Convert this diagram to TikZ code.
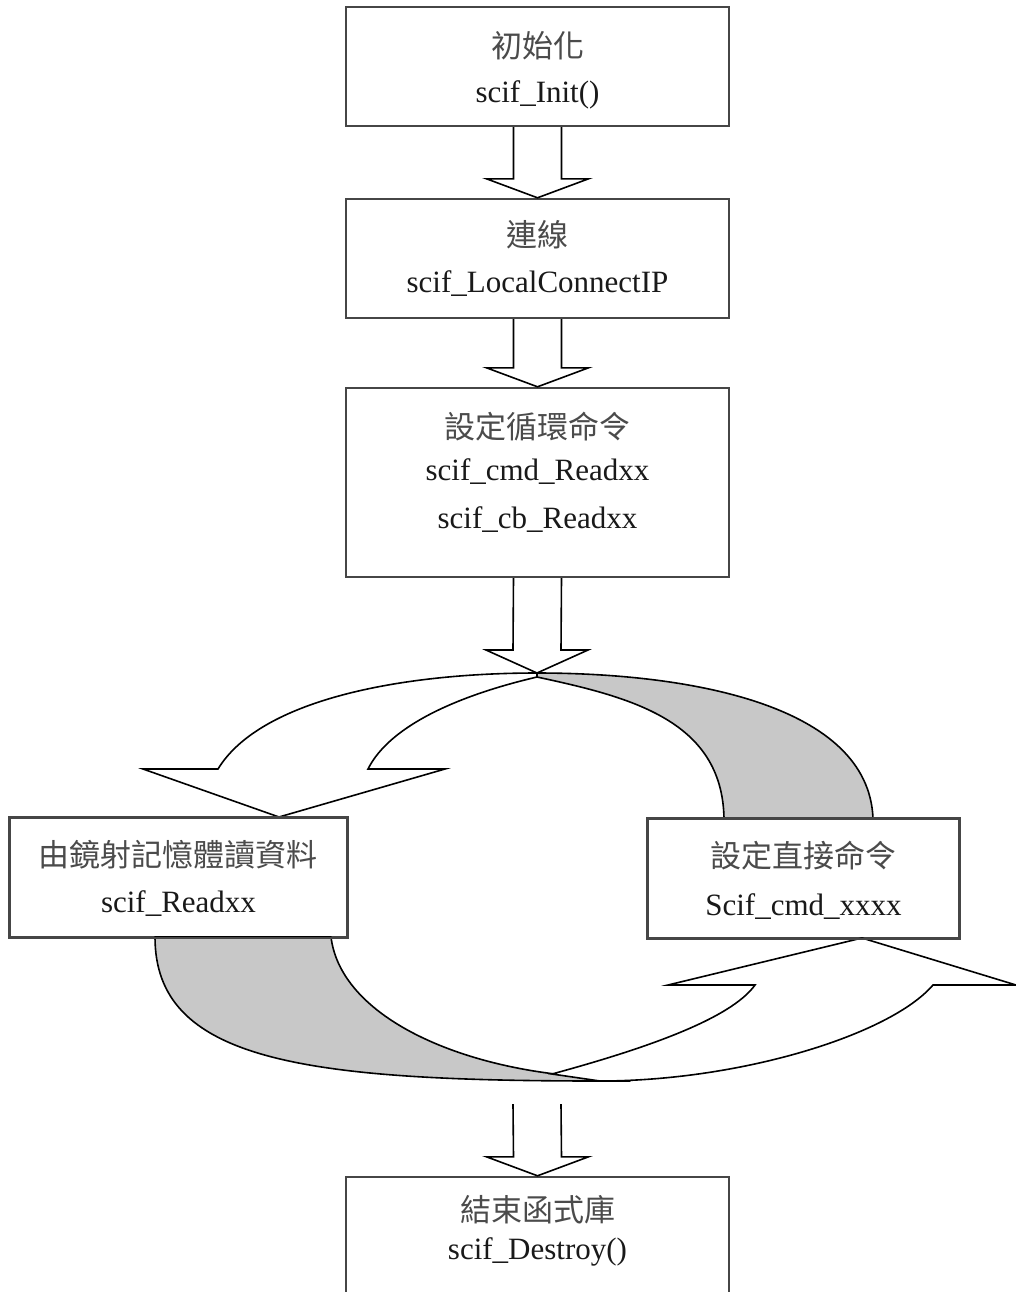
\documentclass[tikz,border=0pt]{standalone}
\usepackage{fontspec}
\setmainfont{Liberation Serif}
\newfontfamily\cjk{Noto Sans CJK TC}
\usetikzlibrary{calc}
\definecolor{boxline}{RGB}{70,70,70}
\definecolor{ribbon}{RGB}{200,200,200}
\definecolor{cjktext}{RGB}{75,75,75}
\definecolor{lattext}{RGB}{25,25,25}
\tikzset{
  box/.style={draw=boxline, line width=1.2pt, fill=white, rectangle, inner sep=0pt},
  blk/.style={draw=black, line width=0.8pt, fill=white, line join=miter},
  ribgray/.style={draw=black, line width=0.8pt, fill=ribbon, line join=round},
  ribwhite/.style={draw=black, line width=0.8pt, fill=white, line join=miter},
  zh/.style={font=\cjk\fontsize{15.5}{18}\selectfont, text=cjktext, anchor=base, inner sep=0pt},
  en/.style={font=\fontsize{15.5}{18}\selectfont, text=lattext, anchor=base, inner sep=0pt},
}
\newcommand{\blockdown}[3]{%
  \draw[blk] ($(#1)+(-24,0)$) -- ($(#2)+(-24,-#3)$) -- ($(#2)+(-51,-#3)$) -- (#2)
    -- ($(#2)+(51,-#3)$) -- ($(#2)+(24,-#3)$) -- ($(#1)+(24,0)$);}
\begin{document}
\begin{tikzpicture}[x=0.5pt,y=-0.5pt]
\useasboundingbox (0,0) rectangle (1016,1292);
\clip (0,0) rectangle (1016,1292);

% boxes
\node[box, minimum width=191.5pt, minimum height=59.5pt] (b1) at (537.5,66.5) {};
\node[box, minimum width=191.5pt, minimum height=59.5pt] (b2) at (537.5,258.5) {};
\node[box, minimum width=191.5pt, minimum height=94.5pt] (b3) at (537.5,482.5) {};
\node[box, minimum width=168.5pt, minimum height=59.5pt] (b4) at (178.5,877.5) {};
\node[box, minimum width=155.5pt, minimum height=59.5pt] (b5) at (803.5,878.5) {};
\node[box, minimum width=191.5pt, minimum height=111.5pt] (b6) at (537.5,1288.5) {};

\coordinate (topjoin) at (537,673);
\coordinate (dtop) at (537,1104);

% straight block arrows
\blockdown{b1.south}{b2.north}{19}
\blockdown{b2.south}{b3.north}{19}
\blockdown{b3.south}{topjoin}{23}
\blockdown{dtop}{b6.north}{19}

% upper curved ribbon arrow
\draw[ribgray] (537,673) .. controls (690,673) and (868,705) .. (873,818)
  -- (724,818) .. controls (722,720) and (630,697) .. (537,677) -- cycle;
\draw[ribwhite] (218,769) .. controls (260,700) and (400,673) .. (537,673)
  -- (537,677) .. controls (460,695) and (390,725) .. (368,769)
  -- (445,769) -- (279,817) -- (143,769) -- cycle;

% lower curved ribbon arrow
\draw[ribgray] (155,937) .. controls (155,1060) and (300,1081) .. (600,1081)
  -- (630,1081) .. controls (600,1079) and (580,1077) .. (555,1074)
  .. controls (440,1060) and (340,1010) .. (331,937) -- cycle;
\draw[ribwhite] (552,1074) .. controls (640,1050) and (730,1020) .. (755,985)
  -- (668,985) -- (862,938) -- (1016,985) -- (933,985)
  .. controls (890,1035) and (740,1081) .. (600,1081) -- cycle;

% redraw box borders on top
\draw[draw=boxline, line width=1.2pt] (b4.south west) rectangle (b4.north east);
\draw[draw=boxline, line width=1.2pt] (b5.south west) rectangle (b5.north east);

% texts
\node[zh] (t1a) at (537.5,57) {初始化};
\node[en] (t1b) at (537.5,102) {scif\_Init()};
\node[zh] (t2a) at (537.5,246) {連線};
\node[en] (t2b) at (537.5,292) {scif\_LocalConnectIP};
\node[zh] (t3a) at (537.5,438) {設定循環命令};
\node[en] (t3b) at (537.5,480) {scif\_cmd\_Readxx};
\node[en] (t3c) at (537.5,528) {scif\_cb\_Readxx};
\node[zh] (t4a) at (178.5,866) {由鏡射記憶體讀資料};
\node[en] (t4b) at (178.5,912) {scif\_Readxx};
\node[zh] (t5a) at (803.5,867) {設定直接命令};
\node[en] (t5b) at (803.5,915) {Scif\_cmd\_xxxx};
\node[zh] (t6a) at (537.5,1221) {結束函式庫};
\node[en] (t6b) at (537.5,1259) {scif\_Destroy()};
\end{tikzpicture}
\end{document}
